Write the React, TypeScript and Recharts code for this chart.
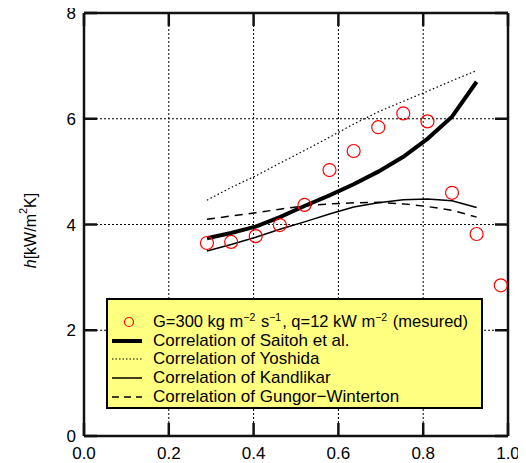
import React from 'react';
import {
  ComposedChart, Line, Scatter, XAxis, YAxis, CartesianGrid, ReferenceLine,
} from 'recharts';

const xTicks = [0, 0.2, 0.4, 0.6, 0.8, 1.0];
const yTicks = [0, 2, 4, 6, 8];

const quality = [0.290, 0.347, 0.405, 0.462, 0.520, 0.579, 0.636, 0.694, 0.753, 0.810, 0.868, 0.926];
const measuredX = [0.290, 0.347, 0.405, 0.462, 0.520, 0.579, 0.636, 0.694, 0.753, 0.810, 0.868, 0.926, 0.983];
const measuredH = [3.65, 3.67, 3.78, 3.99, 4.37, 5.03, 5.39, 5.84, 6.10, 5.95, 4.60, 3.82, 2.85];
const saitohH = [3.74, 3.84, 3.96, 4.14, 4.35, 4.55, 4.76, 5.00, 5.28, 5.62, 6.04, 6.70];
const yoshidaH = [4.46, 4.70, 4.92, 5.16, 5.40, 5.65, 5.90, 6.13, 6.33, 6.52, 6.72, 6.91];
const kandlikarH = [3.50, 3.62, 3.76, 3.91, 4.05, 4.20, 4.33, 4.41, 4.47, 4.48, 4.45, 4.32];
const gungorH = [4.10, 4.16, 4.22, 4.29, 4.35, 4.39, 4.41, 4.42, 4.39, 4.34, 4.27, 4.14];

const toPts = (xs: number[], ys: number[]) => xs.map((x, i) => ({ x, y: ys[i] }));
const measured = toPts(measuredX, measuredH);
const saitoh = toPts(quality, saitohH);
const yoshida = toPts(quality, yoshidaH);
const kandlikar = toPts(quality, kandlikarH);
const gungor = toPts(quality, gungorH);

const FONT = '"Liberation Sans", Arial, sans-serif';
const INK = '#111111';
const TICK_LEN = 13;

const CHART_W = 518;
const CHART_H = 460;
const MARGIN = { top: 10, right: 18, bottom: 0, left: 0 };
const Y_AXIS_W = 76;
const X_AXIS_H = 27;
const PLOT_W = CHART_W - MARGIN.left - MARGIN.right - Y_AXIS_W;
const PLOT_H = CHART_H - MARGIN.top - MARGIN.bottom - X_AXIS_H;
const Y_LABEL_TICK = 4;

const BottomTick = (props: any) => {
  const { x, y, payload } = props;
  const v = Number(payload.value);
  const top = y - PLOT_H;
  return (
    <g>
      <path
        d={`M${x},${y}L${x},${y - TICK_LEN}M${x},${top}L${x},${top + TICK_LEN}`}
        stroke={INK} strokeWidth={2.5} fill="none"
      />
      <text x={x} y={y + 23} textAnchor="middle" fontSize={17} fontFamily={FONT} fill="#000" stroke="none">
        {v.toFixed(1)}
      </text>
    </g>
  );
};

const YTitle = ({ cx, cy }: { cx: number; cy: number }) => (
  <text
    x={cx}
    y={cy}
    transform={`rotate(-90 ${cx} ${cy})`}
    textAnchor="middle"
    dominantBaseline="central"
    fontSize={16}
    fontFamily={FONT}
    fill="#000"
    stroke="none"
  >
    <tspan fontStyle="italic">h</tspan>
    <tspan>[kW/m</tspan>
    <tspan fontSize={11} dy={-7}>2</tspan>
    <tspan dy={7}>K]</tspan>
  </text>
);

const LeftTick = (props: any) => {
  const { x, y, payload } = props;
  const v = Number(payload.value);
  const right = x + PLOT_W;
  return (
    <g>
      <path
        d={`M${x},${y}L${x + TICK_LEN},${y}M${right},${y}L${right - TICK_LEN},${y}`}
        stroke={INK} strokeWidth={2.5} fill="none"
      />
      <text x={x - 8} y={y + 6} textAnchor="end" fontSize={17} fontFamily={FONT} fill="#000" stroke="none">
        {v}
      </text>
      {v === Y_LABEL_TICK && <YTitle cx={x - 54} cy={y + 6} />}
    </g>
  );
};

const Circle = (props: any) => {
  const { cx, cy } = props;
  return <circle cx={cx} cy={cy} r={6.5} fill="none" stroke="#ff0000" strokeWidth={1.2} />;
};

const sup = (s: string) => (
  <span style={{ fontSize: 10.5, verticalAlign: 'super', lineHeight: 0, marginRight: 1 }}>{s}</span>
);

const legendRows = [
  { kind: 'circle', width: 0, dash: undefined as string | undefined, label: 'measured' },
  { kind: 'line', width: 4, dash: undefined as string | undefined, label: 'Correlation of Saitoh et al.' },
  { kind: 'line', width: 1.2, dash: '1.5 2', label: 'Correlation of Yoshida' },
  { kind: 'line', width: 1.5, dash: undefined, label: 'Correlation of Kandlikar' },
  { kind: 'line', width: 1.5, dash: '7 5', label: 'Correlation of Gungor\u2212Winterton' },
];

const LegendBox = () => (
  <div
    style={{
      position: 'absolute',
      left: 98,
      top: 295,
      width: 377,
      height: 111,
      boxSizing: 'border-box',
      background: '#ffff80',
      border: '2px solid #000',
      paddingTop: 12.5,
      fontFamily: FONT,
      fontSize: 17,
      color: '#000',
    }}
  >
    {legendRows.map((r, i) => (
      <div key={i} style={{ height: 18.7, display: 'flex', alignItems: 'center', whiteSpace: 'nowrap' }}>
        <svg width={45} height={18} style={{ flex: '0 0 auto' }}>
          {r.kind === 'circle' ? (
            <circle cx={21} cy={9} r={4.5} fill="none" stroke="#ff0000" strokeWidth={1.2} />
          ) : (
            <line x1={4} y1={9} x2={34} y2={9} stroke="#000" strokeWidth={r.width}
              strokeDasharray={r.dash} />
          )}
        </svg>
        {r.kind === 'circle' ? (
          <span style={{ fontSize: 16.5 }}>
            G=300 kg m{sup('\u22122')} s{sup('\u22121')}, q=12 kW m{sup('\u22122')} (mesured)
          </span>
        ) : (
          <span>{r.label}</span>
        )}
      </div>
    ))}
  </div>
);

export default function App() {
  return (
    <div style={{ marginTop: -5, position: 'relative', width: CHART_W, height: CHART_H }}>
      <ComposedChart width={CHART_W} height={CHART_H} margin={MARGIN}>
        <CartesianGrid stroke="#000" strokeDasharray="2 2" strokeWidth={1} />
        <XAxis
          type="number"
          dataKey="x"
          domain={[0, 1]}
          ticks={xTicks}
          height={X_AXIS_H}
          tickSize={0}
          tickMargin={0}
          stroke={INK}
          axisLine={{ stroke: INK, strokeWidth: 2.5 }}
          tickLine={false}
          tick={<BottomTick />}
          interval={0}
        />
        <YAxis
          type="number"
          domain={[0, 8]}
          ticks={yTicks}
          width={Y_AXIS_W}
          tickSize={0}
          tickMargin={0}
          stroke={INK}
          axisLine={{ stroke: INK, strokeWidth: 2.5 }}
          tickLine={false}
          tick={<LeftTick />}
          interval={0}
        />
        <ReferenceLine x={1} stroke={INK} strokeWidth={2.5} />
        <ReferenceLine y={8} stroke={INK} strokeWidth={2.5} />
        <Line data={yoshida} dataKey="y" type="linear" stroke="#000" strokeWidth={1.2}
          strokeDasharray="1.5 2.5" dot={false} isAnimationActive={false} />
        <Line data={gungor} dataKey="y" type="linear" stroke="#000" strokeWidth={1.5}
          strokeDasharray="8 6" dot={false} isAnimationActive={false} />
        <Line data={kandlikar} dataKey="y" type="linear" stroke="#000" strokeWidth={1.5}
          dot={false} isAnimationActive={false} />
        <Line data={saitoh} dataKey="y" type="linear" stroke="#000" strokeWidth={4}
          dot={false} isAnimationActive={false} />
        <Scatter data={measured} dataKey="y" shape={<Circle />} isAnimationActive={false} />
      </ComposedChart>
      <LegendBox />
    </div>
  );
}
